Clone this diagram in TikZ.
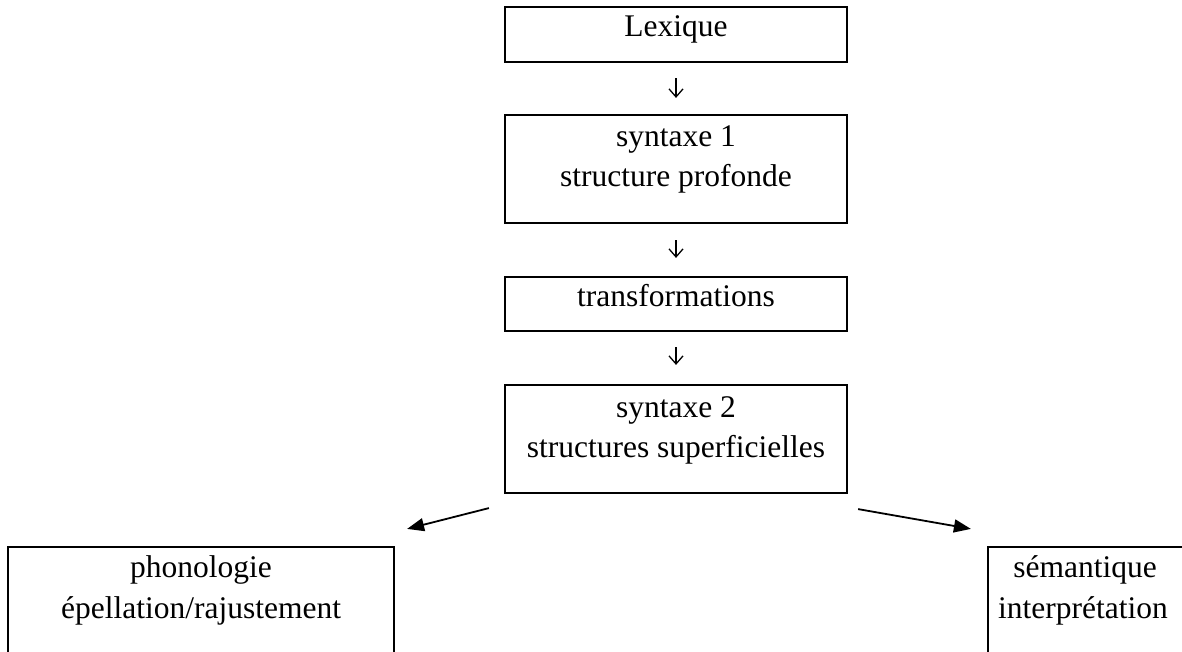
\documentclass[tikz,border=0pt]{standalone}
\usepackage{fontspec}
\setmainfont{Liberation Serif}
\usetikzlibrary{arrows.meta,calc}
\begin{document}
\begin{tikzpicture}[x=1pt,y=-1pt,
  box/.style={draw,line width=2.2pt,rectangle,inner sep=0pt},
  txt/.style={anchor=base,inner sep=0pt,font=\fontsize{31.5}{40}\selectfont},
  down/.style={line width=1.3pt,-{Straight Barb[length=8pt,width=14pt,line width=1.3pt]}},
  diag/.style={line width=1.8pt,-{Triangle[length=17pt,width=13pt]}}]
\useasboundingbox (0,0) rectangle (1182,652);
% boxes
\node[box,minimum width=342pt,minimum height=55pt] (lex) at (676,34.5) {};
\node[box,minimum width=342pt,minimum height=108pt] (syn1) at (676,169) {};
\node[box,minimum width=342pt,minimum height=54pt] (trans) at (676,304) {};
\node[box,minimum width=342pt,minimum height=108pt] (syn2) at (676,439) {};
\node[box,minimum width=386pt,minimum height=113pt] (phon) at (201,603.5) {};
\node[box,minimum width=196pt,minimum height=113pt] (sem) at (1086,603.5) {};
% texts
\node[txt] (tlex) at (676,37) {Lexique};
\node[txt] (tsyn1a) at (676,147) {syntaxe 1};
\node[txt] (tsyn1b) at (676,187) {structure profonde};
\node[txt] (ttrans) at (676,306) {transformations};
\node[txt] (tsyn2a) at (676,417) {syntaxe 2};
\node[txt] (tsyn2b) at (676,457) {structures superficielles};
\node[txt] (tphona) at (201,577) {phonologie};
\node[txt] (tphonb) at (201,618) {épellation/rajustement};
\node[txt] (tsema) at (1085,577) {sémantique};
\node[txt] (tsemb) at (1083,618) {interprétation};
% vertical arrows
\draw[down,shorten <=15pt,shorten >=16pt] (lex.south) -- (syn1.north);
\draw[down,shorten <=16pt,shorten >=18pt] (syn1.south) -- (trans.north);
\draw[down,shorten <=15pt,shorten >=19pt] (trans.south) -- (syn2.north);
% diagonal arrows
\coordinate (ls) at ($(syn2.south west)+(-15,14)$);
\coordinate (le) at ($(phon.north east)+(12,-17)$);
\coordinate (rs) at ($(syn2.south east)+(10,15)$);
\coordinate (re) at ($(sem.north west)+(-16,-17)$);
\draw[diag] (ls) -- (le);
\draw[diag] (rs) -- (re);
\end{tikzpicture}
\end{document}
